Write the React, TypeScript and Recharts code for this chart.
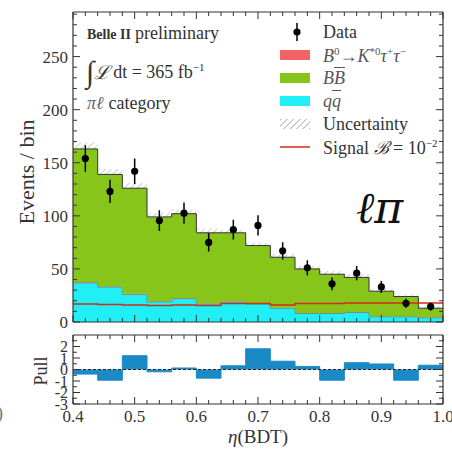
import React from 'react';
import { ComposedChart, Area, Line, Scatter, ErrorBar, XAxis, YAxis, ReferenceLine } from 'recharts';

// ---- data ----
const binLow = [0.40, 0.44, 0.48, 0.52, 0.56, 0.60, 0.64, 0.68, 0.72, 0.76, 0.80, 0.84, 0.88, 0.92, 0.96];
const binHigh = 1.0;
const binCenter = [0.42, 0.46, 0.50, 0.54, 0.58, 0.62, 0.66, 0.70, 0.74, 0.78, 0.82, 0.86, 0.90, 0.94, 0.98];
const qqBkg = [37, 33, 26, 19, 22, 17, 19, 17, 13, 8, 8, 9, 5, 5, 4];
const sigStack = [0.6, 0.6, 0.6, 0.5, 0.5, 0.5, 0.5, 0.5, 0.5, 0.5, 0.5, 0.5, 0.5, 0.5, 0.5];
const bbBkg = [125.4, 105.4, 99.4, 79.5, 79.5, 66.5, 64.5, 54.5, 47.5, 41.5, 36.5, 32.5, 23.5, 18.5, 8.5];
const totUnc = [6, 5, 5, 4, 4, 4, 3, 3, 3, 3, 3, 3, 2, 2, 2];
const signalLine = [17, 16.5, 16, 15.5, 16, 15.5, 17.5, 17.5, 16, 17.5, 17.5, 18, 18, 18, 18];
const dataCounts = [154, 123, 142, 95.5, 102.5, 75, 87, 91, 67, 51, 36, 46, 33, 17.6, 14.5];
const dataErr = [12.5, 11, 12, 9.8, 10, 8.7, 9.3, 9.5, 8.2, 7.1, 6, 6.8, 5.7, 4.2, 3.8];
const pullValues = [-0.4, -0.93, 1.2, -0.2, 0.13, -0.75, 0.32, 1.8, 0.72, 0.27, -0.93, 0.59, 0.48, -0.93, 0.37];

const xTicks = [0.4, 0.5, 0.6, 0.7, 0.8, 0.9, 1.0];
const yTicksMain = [0, 50, 100, 150, 200, 250];
const pullTicks = [-3, -2, -1, 0, 1, 2];

const xMinor = Array.from({ length: 31 }, (_, i) => +(0.4 + i * 0.02).toFixed(2));
const yMinor = Array.from({ length: 30 }, (_, i) => i * 10);
const pullMinor = [-3, -2.5, -2, -1.5, -1, -0.5, 0, 0.5, 1, 1.5, 2, 2.5];

const edges = [...binLow, binHigh];
const histData = edges.map((x, i) => {
  const j = Math.min(i, binLow.length - 1);
  const tot = qqBkg[j] + sigStack[j] + bbBkg[j];
  return {
    x,
    qq: qqBkg[j],
    sig: sigStack[j],
    bb: bbBkg[j],
    band: [tot - totUnc[j], tot + totUnc[j]],
    signal: signalLine[j],
    pull: pullValues[j],
  };
});
const pointData = binCenter.map((x, i) => ({ x, n: dataCounts[i], err: dataErr[i] }));

const FONT = "'Liberation Serif', 'DejaVu Serif', serif";
const AX = '#333';
const GREEN = '#88c51b';
const CYAN = '#20f0f6';
const RED = '#f46262';
const BLUE = '#1a8ac6';

type Side = 'bottom' | 'top' | 'left' | 'right';

const makeTick = (side: Side, majors: number[], showLabel: boolean, fontSize: number, fmt: (v: number) => string) => (props: any) => {
  const { x, y, payload } = props;
  const v = payload.value;
  const isMajor = majors.some((m) => Math.abs(m - v) < 1e-6);
  const len = isMajor ? 7 : 4;
  let line: React.ReactNode = null;
  let label: React.ReactNode = null;
  if (side === 'bottom') {
    line = <line x1={x} y1={y} x2={x} y2={y - len} stroke={AX} strokeWidth={1} />;
    if (showLabel && isMajor)
      label = <text x={x} y={y + 18} textAnchor="middle" fontFamily={FONT} fontSize={fontSize} fill="#333">{fmt(v)}</text>;
  } else if (side === 'top') {
    line = <line x1={x} y1={y} x2={x} y2={y + len} stroke={AX} strokeWidth={1} />;
  } else if (side === 'left') {
    line = <line x1={x} y1={y} x2={x + len} y2={y} stroke={AX} strokeWidth={1} />;
    if (showLabel && isMajor)
      label = <text x={x - 5} y={y} dy="0.35em" textAnchor="end" fontFamily={FONT} fontSize={fontSize} fill="#333">{fmt(v)}</text>;
  } else {
    line = <line x1={x} y1={y} x2={x - len} y2={y} stroke={AX} strokeWidth={1} />;
  }
  return (
    <g>
      {line}
      {label}
    </g>
  );
};

const frameAxes = (yDomain: number[], yMajor: number[], yAll: number[], yFont: number, showXLabels: boolean) => [
  <XAxis key="xb" xAxisId={0} dataKey="x" type="number" domain={[0.4, 1.0]} allowDataOverflow ticks={xMinor} interval={0}
    tick={makeTick('bottom', xTicks, showXLabels, 17, (v) => v.toFixed(1))} tickSize={0} tickMargin={0} tickLine={false} height={1}
    axisLine={{ stroke: AX, strokeWidth: 1.2 }} />,
  <XAxis key="xt" xAxisId="t" orientation="top" dataKey="x" type="number" domain={[0.4, 1.0]} allowDataOverflow ticks={xMinor} interval={0}
    tick={makeTick('top', xTicks, false, 17, (v) => String(v))} tickSize={0} tickMargin={0} tickLine={false} height={1}
    axisLine={{ stroke: AX, strokeWidth: 1.2 }} />,
  <YAxis key="yl" yAxisId={0} type="number" domain={yDomain} allowDataOverflow ticks={yAll} interval={0}
    tick={makeTick('left', yMajor, true, yFont, (v) => String(v))} tickSize={0} tickMargin={0} tickLine={false} width={1}
    axisLine={{ stroke: AX, strokeWidth: 1.2 }} />,
  <YAxis key="yr" yAxisId="r" orientation="right" type="number" domain={yDomain} allowDataOverflow ticks={yAll} interval={0}
    tick={makeTick('right', yMajor, false, yFont, (v) => String(v))} tickSize={0} tickMargin={0} tickLine={false} width={1}
    axisLine={{ stroke: AX, strokeWidth: 1.2 }} />,
];

const Dot = (p: any) => <circle cx={p.cx} cy={p.cy} r={3.6} fill="#000" />;

const legendRows: { y: number; sym: React.ReactNode; text: React.ReactNode }[] = [
  {
    y: 32,
    sym: (<g><line x1={17} y1={2} x2={17} y2={20} stroke="#000" strokeWidth={1.5} /><circle cx={17} cy={11} r={3.6} fill="#000" /></g>),
    text: <span>Data</span>,
  },
  {
    y: 55,
    sym: <rect x={0} y={6} width={30} height={10} fill={RED} />,
    text: (<span style={{ color: '#555' }}><i>B</i><sup style={{ fontSize: 11 }}>0</sup>→<i>K</i><sup style={{ fontSize: 11 }}>*0</sup><i>τ</i><sup style={{ fontSize: 11 }}>+</sup><i>τ</i><sup style={{ fontSize: 11 }}>−</sup></span>),
  },
  {
    y: 78,
    sym: <rect x={0} y={6} width={30} height={10} fill={GREEN} />,
    text: (<span style={{ color: '#555' }}><i>B</i><i style={{ textDecoration: 'overline' }}>B</i></span>),
  },
  {
    y: 101,
    sym: <rect x={0} y={6} width={30} height={10} fill={CYAN} />,
    text: (<span style={{ color: '#555' }}><i>q</i><i style={{ textDecoration: 'overline' }}>q</i></span>),
  },
  {
    y: 124,
    sym: <rect x={0} y={6} width={30} height={10} fill="url(#hatchLeg)" />,
    text: <span>Uncertainty</span>,
  },
  {
    y: 147,
    sym: <line x1={0} y1={11} x2={30} y2={11} stroke="#d42a1a" strokeWidth={1.5} />,
    text: (<span>Signal <i>ℬ</i> = 10<sup style={{ fontSize: 11 }}>−2</sup></span>),
  },
];

export default function App() {
  return (
    <div style={{ position: 'absolute', left: 0, top: 0, width: 452, height: 449, background: '#fff', overflow: 'hidden', fontFamily: FONT, color: '#222' }}>
      {/* main panel */}
      <div style={{ position: 'absolute', left: 0, top: 0 }}>
        <ComposedChart width={452} height={330} data={histData} margin={{ top: 11, right: 8, bottom: 7, left: 72 }}>
          <defs>
            <pattern id="hatch" width="4.5" height="4.5" patternUnits="userSpaceOnUse" patternTransform="rotate(45)">
              <line x1="0" y1="0" x2="0" y2="4.5" stroke="#777" strokeWidth="1.2" />
            </pattern>
          </defs>
          <Area dataKey="band" type="stepAfter" fill="url(#hatch)" stroke="none" isAnimationActive={false} dot={false} activeDot={false} />
          <Area dataKey="qq" stackId="s" type="stepAfter" fill={CYAN} fillOpacity={1} stroke="#15a3a8" strokeWidth={1} isAnimationActive={false} dot={false} activeDot={false} />
          <Area dataKey="sig" stackId="s" type="stepAfter" fill={RED} fillOpacity={1} stroke="none" isAnimationActive={false} dot={false} activeDot={false} />
          <Area dataKey="bb" stackId="s" type="stepAfter" fill={GREEN} fillOpacity={1} stroke="#333" strokeWidth={1} isAnimationActive={false} dot={false} activeDot={false} />
          <Line dataKey="signal" type="stepAfter" stroke="#d42a1a" strokeWidth={1.5} dot={false} activeDot={false} isAnimationActive={false} />
          <Scatter data={pointData} dataKey="n" shape={Dot} isAnimationActive={false}>
            <ErrorBar dataKey="err" direction="y" width={0} stroke="#000" strokeWidth={1.5} />
          </Scatter>
          {frameAxes([0, 292], yTicksMain, yMinor, 17, false)}
        </ComposedChart>
      </div>

      {/* pull panel */}
      <div style={{ position: 'absolute', left: 0, top: 330 }}>
        <ComposedChart width={452} height={119} data={histData} margin={{ top: 4, right: 8, bottom: 44, left: 72 }}>
          <Area dataKey="pull" type="stepAfter" baseValue={0} fill={BLUE} fillOpacity={1} stroke={BLUE} strokeWidth={1} isAnimationActive={false} dot={false} activeDot={false} />
          <ReferenceLine y={0} stroke="#222" strokeDasharray="3 2" strokeWidth={1} />
          {frameAxes([-3, 3], pullTicks, pullMinor, 16, true)}
        </ComposedChart>
      </div>

      {/* axis titles */}
      <div style={{ position: 'absolute', left: 27, top: 172, transform: 'translate(-50%, -50%) rotate(-90deg)', fontSize: 22, whiteSpace: 'nowrap', color: '#333' }}>Events / bin</div>
      <div style={{ position: 'absolute', left: 41, top: 371, transform: 'translate(-50%, -50%) rotate(-90deg)', fontSize: 18, whiteSpace: 'nowrap', color: '#333' }}>Pull</div>
      <div style={{ position: 'absolute', left: 258, top: 437, transform: 'translate(-50%, -50%)', fontSize: 19, whiteSpace: 'nowrap', color: '#333' }}><i>η</i>(BDT)</div>
      <div style={{ position: 'absolute', left: -3, top: 403, fontSize: 18, color: '#777' }}>)</div>

      {/* annotations */}
      <div style={{ position: 'absolute', left: 87, top: 23, height: 20, display: 'flex', alignItems: 'baseline', whiteSpace: 'nowrap', color: '#333' }}>
        <span style={{ fontSize: 14, fontWeight: 'bold' }}>Belle II</span>
        <span style={{ fontSize: 18, marginLeft: 4 }}>preliminary</span>
      </div>
      <div style={{ position: 'absolute', left: 86, top: 56, height: 32, display: 'flex', alignItems: 'center', whiteSpace: 'nowrap', color: '#333', fontSize: 18 }}>
        <span style={{ fontSize: 30, lineHeight: 1 }}>∫</span>
        <span style={{ fontStyle: 'italic', fontSize: 19 }}>ℒ</span>
        <span style={{ marginLeft: 3 }}>dt = 365 fb<sup style={{ fontSize: 11 }}>−1</sup></span>
      </div>
      <div style={{ position: 'absolute', left: 87, top: 93, height: 20, display: 'flex', alignItems: 'baseline', whiteSpace: 'nowrap', color: '#333', fontSize: 18 }}>
        <span style={{ fontStyle: 'italic', color: '#666' }}>πℓ</span>
        <span style={{ marginLeft: 5 }}>category</span>
      </div>
      <div style={{ position: 'absolute', left: 356, top: 186, fontSize: 44, fontStyle: 'italic', fontFamily: "'DejaVu Serif', serif", lineHeight: 1, color: '#111' }}>ℓπ</div>

      {/* legend */}
      {legendRows.map((r, i) => (
        <div key={i} style={{ position: 'absolute', left: 280, top: r.y - 11, height: 22, display: 'flex', alignItems: 'center', whiteSpace: 'nowrap', fontSize: 18, lineHeight: 1, color: '#333' }}>
          <svg width={30} height={22} style={{ overflow: 'visible' }}>
            {i === 4 && (
              <defs>
                <pattern id="hatchLeg" width="4.5" height="4.5" patternUnits="userSpaceOnUse" patternTransform="rotate(45)">
                  <line x1="0" y1="0" x2="0" y2="4.5" stroke="#888" strokeWidth="1.2" />
                </pattern>
              </defs>
            )}
            {r.sym}
          </svg>
          <span style={{ marginLeft: 13 }}>{r.text}</span>
        </div>
      ))}
    </div>
  );
}
